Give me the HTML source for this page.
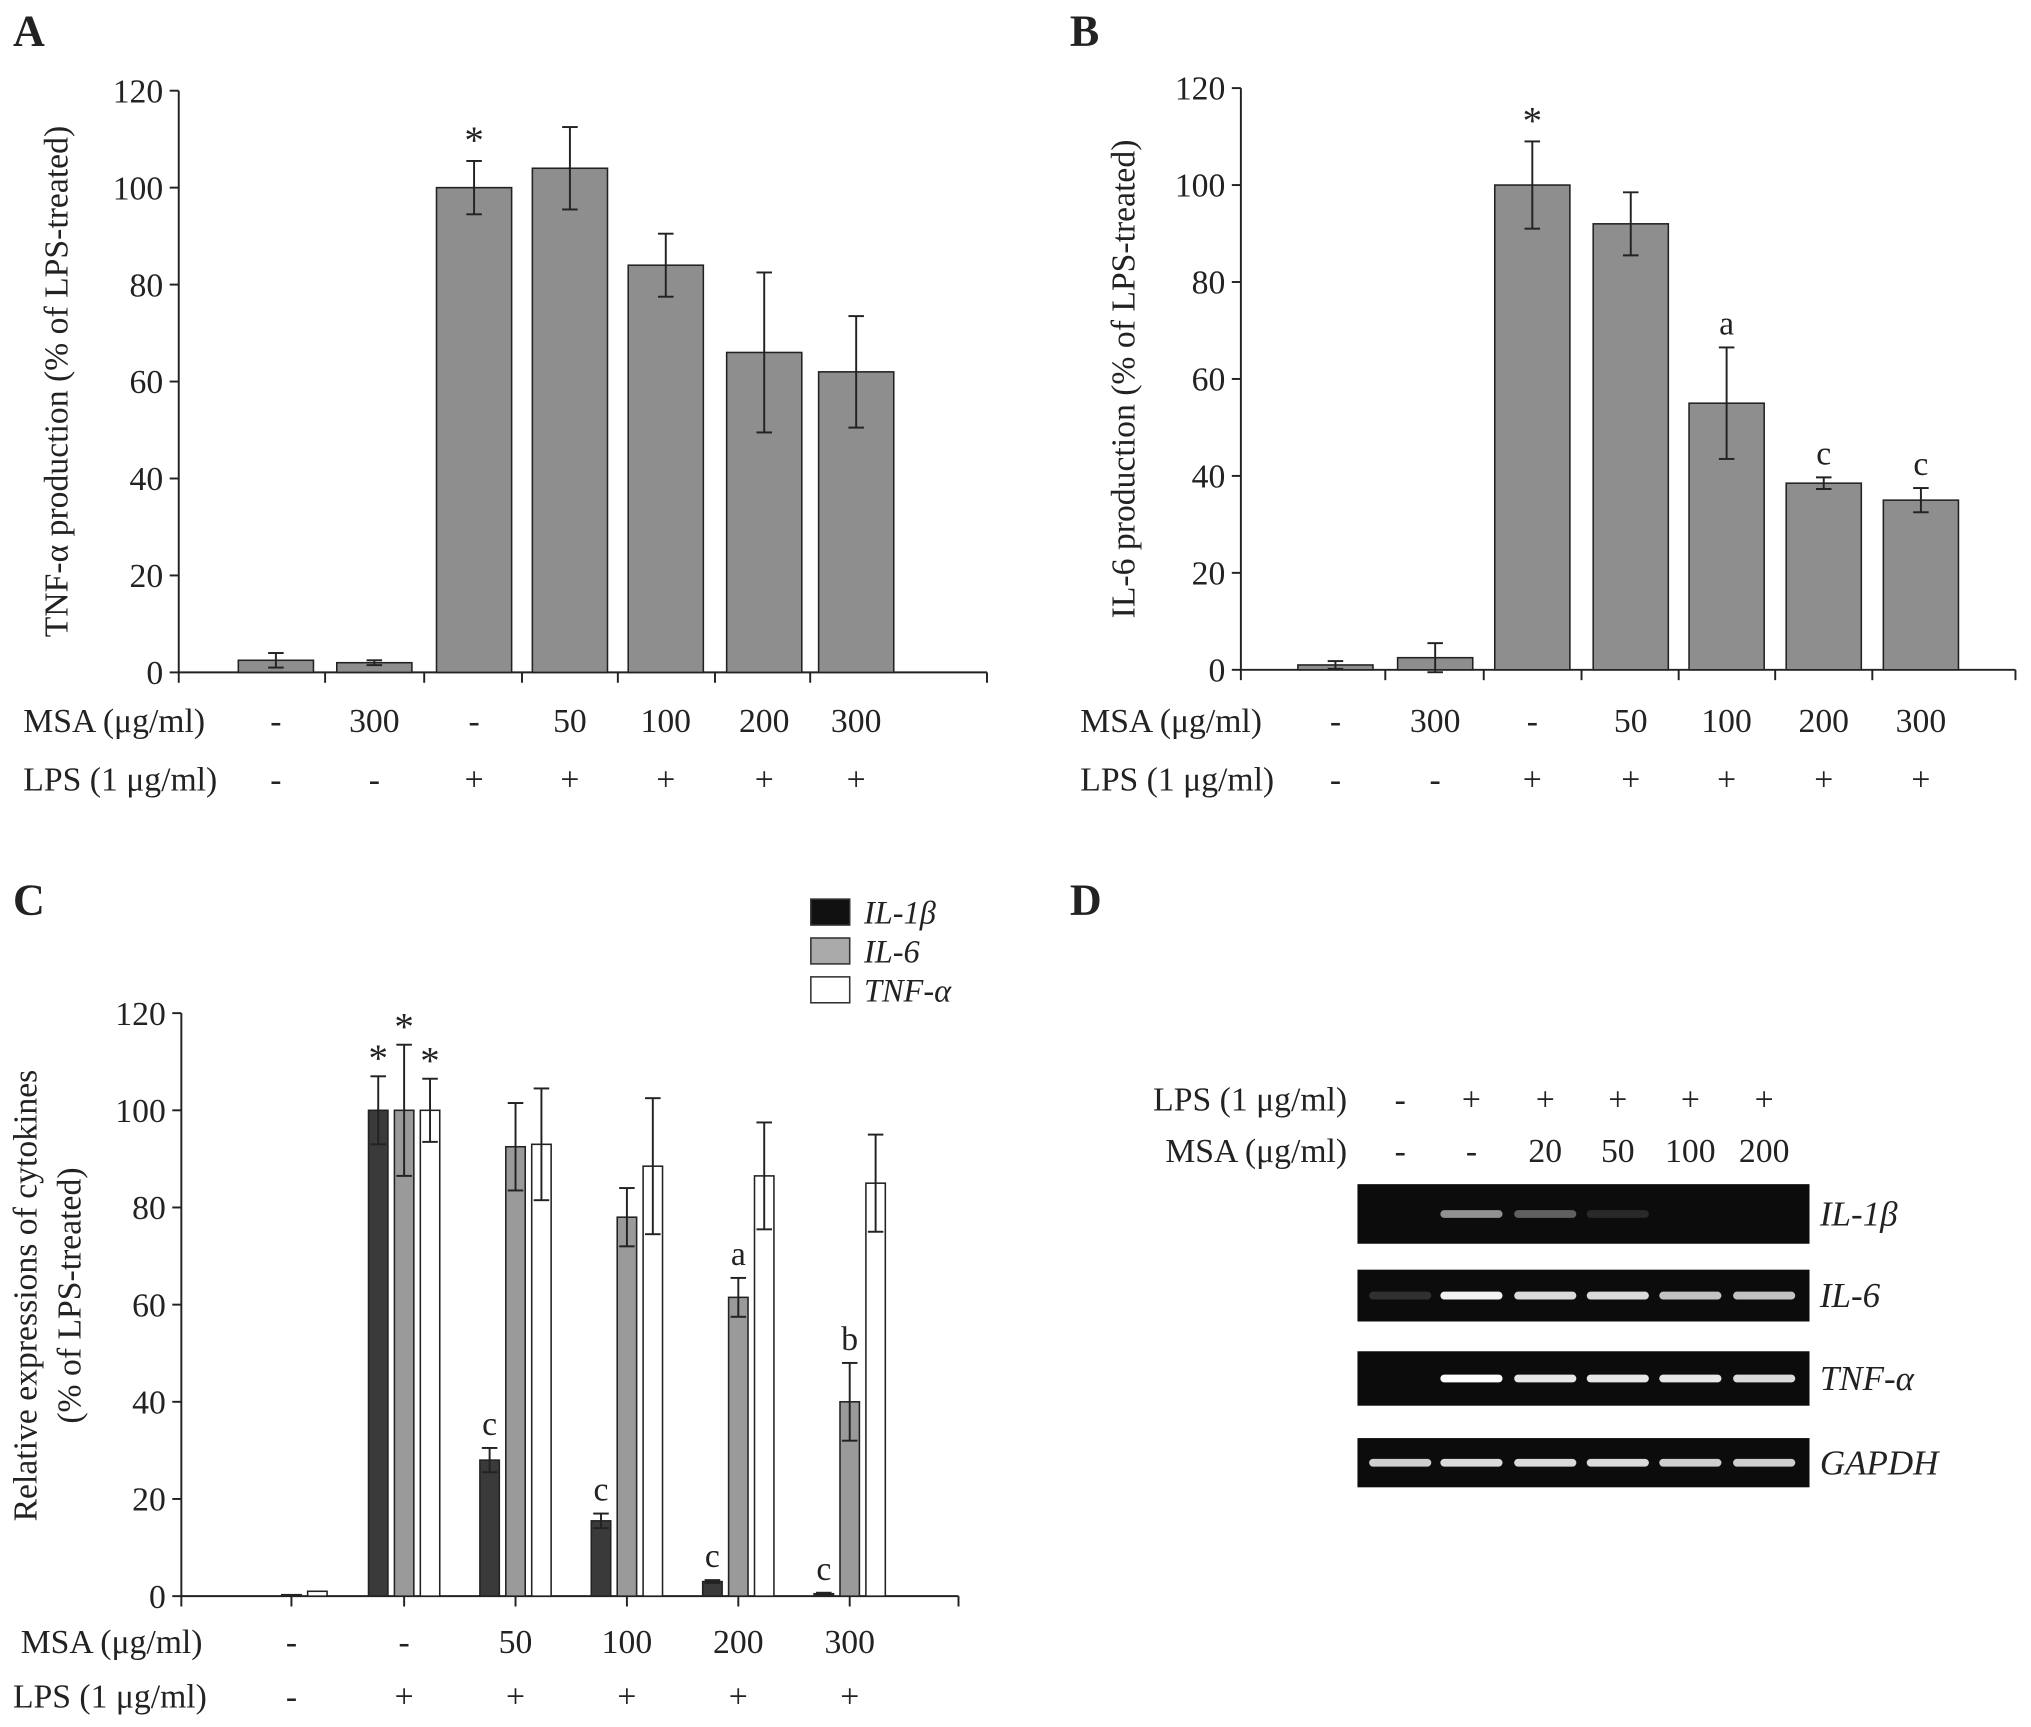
<!DOCTYPE html>
<html><head><meta charset="utf-8"><style>
html,body{margin:0;padding:0;background:#fff}
svg{display:block}
text{font-family:"Liberation Serif",serif;fill:#222}
</style></head><body>
<svg id="fig" width="2031" height="1727" viewBox="0 0 1568 1333" preserveAspectRatio="none" xmlns="http://www.w3.org/2000/svg">
<g id="gA"></g>
<g id="gB"></g>
<g id="gC"></g>
<g id="gD"></g>
</svg>
<script>
const aMSA=["-","300","-","50","100","200","300"];
const aLPS=["-","-","+","+","+","+","+"];
const aVals=[2.5,2,100,104,84,66,62];
const aErr=[1.5,0.5,5.5,8.5,6.5,16.5,11.5];
const aMarks=["","","*","","","",""];
const bVals=[1,2.5,100,92,55,38.5,35];
const bErr=[0.8,3,9,6.5,11.5,1.2,2.5];
const bMarks=["","","*","","a","c","c"];
const yTicks=[0,20,40,60,80,100,120];
const cMSA=["-","-","50","100","200","300"];
const cLPS=["-","+","+","+","+","+"];
const cIL1b=[0,100,28,15.5,3,0.5];
const cIL1bErr=[0,7,2.5,1.5,0.3,0.2];
const cIL6=[0.3,100,92.5,78,61.5,40];
const cIL6Err=[0,13.5,9,6,4,8];
const cTNF=[1,100,93,88.5,86.5,85];
const cTNFErr=[0,6.5,11.5,14,11,10];
const cMarks1=["","*","c","c","c","c"];
const cMarks2=["","*","","","a","b"];
const cMarks3=["","*","","","",""];
const dMSA=["-","-","20","50","100","200"];
const dLPS=["-","+","+","+","+","+"];
const dGenes=["IL-1β","IL-6","TNF-α","GAPDH"];
const dBand=[[0,0.55,0.35,0.12,0,0],[0.15,0.95,0.85,0.85,0.75,0.75],[0,1,0.9,0.9,0.9,0.85],[0.8,0.85,0.85,0.85,0.8,0.8]];
const NS="http://www.w3.org/2000/svg";
function el(p,t,a,txt){const e=document.createElementNS(NS,t);for(const k in a)e.setAttribute(k,a[k]);if(txt!==undefined)e.textContent=txt;p.appendChild(e);return e;}
function txt(p,x,y,s,size,extra){return el(p,"text",Object.assign({x:x,y:y,"font-size":size||26,"text-anchor":"middle"},extra||{}),s);}
function axes(g,x0,x1,y0,yTop,ticksX,titleLines,tx,ty){
  const ys=v=>y0-(y0-yTop)*v/120;
  const ax=el(g,"line",{x1:x0,y1:y0,x2:x1,y2:y0,stroke:"#222","stroke-width":1.5});
  
  const ay=el(g,"line",{x1:x0,y1:y0,x2:x0,y2:yTop,stroke:"#222","stroke-width":1.5});
  
  yTicks.forEach(v=>{el(g,"line",{x1:x0-7,y1:ys(v),x2:x0,y2:ys(v),stroke:"#222","stroke-width":1.5});
    const t=txt(g,x0-12,ys(v)+9,String(v),26,{"text-anchor":"end"});
    });
  ticksX.forEach(x=>el(g,"line",{x1:x,y1:y0,x2:x,y2:y0+8,stroke:"#222","stroke-width":1.5}));
  titleLines.forEach((l,i)=>{const t=txt(g,0,0,l,26,{transform:`translate(${tx+i*34},${ty}) rotate(-90)`});
    });
  return ys;
}
function bar(g,cx,w,v,e,ys,fill,name){
  const y0=ys(0),y=ys(v);
  const r=el(g,"rect",{x:cx-w/2,y:y,width:w,height:y0-y,fill:fill,stroke:"#222","stroke-width":1.2});
  
  if(e>0){const t=ys(v+e),b=ys(v-e);
    el(g,"line",{x1:cx,y1:t,x2:cx,y2:b,stroke:"#222","stroke-width":1.5});
    el(g,"line",{x1:cx-6,y1:t,x2:cx+6,y2:t,stroke:"#222","stroke-width":1.5});
    el(g,"line",{x1:cx-6,y1:b,x2:cx+6,y2:b,stroke:"#222","stroke-width":1.5});}
  return ys(v+e);
}
function simple(g,x0,x1,y0,yTop,xs,vals,errs,marks,title,tx,letter,lx){
  const tx2=[x0].concat(xs.map((x,i)=>i<xs.length-1?(x+xs[i+1])/2:x1));
  const ys=axes(g,x0,x1,y0,yTop,tx2,[title],tx,(y0+yTop)/2);
  vals.forEach((v,i)=>{const top=bar(g,xs[i],58,v,errs[i],ys,"#8e8e8e","bar-"+i);
    if(marks[i]){const m=txt(g,xs[i],top-(marks[i]=="*"?6:10),marks[i],marks[i]=="*"?30:26);}});
  const L=txt(g,lx,35,letter,34,{"font-weight":"bold","text-anchor":"start"});
  txt(g,lx+8,565,"MSA (μg/ml)",26,{"text-anchor":"start"});
  txt(g,lx+8,610,"LPS (1 μg/ml)",26,{"text-anchor":"start"});
  aMSA.forEach((s,i)=>{const t=txt(g,xs[i],565,s,26);});
  aLPS.forEach((s,i)=>{const t=txt(g,xs[i],610,s,26);});
}
simple(document.getElementById("gA"),138,762,519,70,[213,289,366,440,514,590,661],aVals,aErr,aMarks,"TNF-α production  (% of LPS-treated)",52,"A",10);
simple(document.getElementById("gB"),958,1556,517,68,[1031,1108,1183,1259,1333,1408,1483],bVals,bErr,bMarks,"IL-6 production  (% of LPS-treated)",876,"B",826);
// Panel C
(function(){
  const g=document.getElementById("gC");
  const xs=[225,312,398,484,570,656];
  const ys=axes(g,140,740,1232,782,[140].concat(xs).concat([740]),["Relative expressions of cytokines","(% of LPS-treated)"],28,1000);
  const series=[[cIL1b,cIL1bErr,"#3a3a3a",-20,cMarks1,"bar-il1b"],[cIL6,cIL6Err,"#9a9a9a",0,cMarks2,"bar-il6"],[cTNF,cTNFErr,"#ffffff",20,cMarks3,"bar-tnf"]];
  series.forEach(s=>{xs.forEach((x,i)=>{
    const v=s[0][i];if(v<=0)return;
    const top=bar(g,x+s[3],15,v,s[1][i],ys,s[2],s[5]);
    const m=s[4][i];if(m){const t=txt(g,x+s[3],top-(m=="*"?4:10),m,m=="*"?30:26);}
  });});
  const L=txt(g,10,706,"C",34,{"font-weight":"bold","text-anchor":"start"});
  txt(g,16,1276,"MSA (μg/ml)",26,{"text-anchor":"start"});
  txt(g,10,1318,"LPS (1 μg/ml)",26,{"text-anchor":"start"});
  cMSA.forEach((s,i)=>{const t=txt(g,xs[i],1276,s,26);});
  cLPS.forEach((s,i)=>{const t=txt(g,xs[i],1318,s,26);});
  const names=["IL-1β","IL-6","TNF-α"],fills=["#111","#aaa","#fff"];
  names.forEach((n,i)=>{const y=694+i*30;
    const r=el(g,"rect",{x:626,y:y,width:30,height:20,fill:fills[i],stroke:"#333","stroke-width":1.2});
    
    const t=txt(g,667,y+19,n,25,{"text-anchor":"start","font-style":"italic"});
    });
})();
// Panel D
(function(){
  const g=document.getElementById("gD");
  const L=txt(g,826,706,"D",34,{"font-weight":"bold","text-anchor":"start"});
  const lanes=[1081,1136,1193,1249,1305,1362];
  txt(g,1040,857,"LPS (1 μg/ml)",26,{"text-anchor":"end"});
  txt(g,1040,897,"MSA (μg/ml)",26,{"text-anchor":"end"});
  dLPS.forEach((s,i)=>{const t=txt(g,lanes[i],857,s,26);});
  dMSA.forEach((s,i)=>{const t=txt(g,lanes[i],897,s,26);});
  const rows=[[914,960],[980,1020],[1043,1085],[1110,1148]];
  rows.forEach((r,k)=>{
    const box=el(g,"rect",{x:1048,y:r[0],width:349,height:r[1]-r[0],fill:"#0c0c0c"});
    
    const cy=(r[0]+r[1])/2;
    lanes.forEach((x,i)=>{const a=dBand[k][i];if(a<=0)return;
      const b=el(g,"rect",{x:x-24,y:cy-3,width:48,height:6,rx:3,fill:"#fff",opacity:a});
      });
    const t=txt(g,1405,cy+9,dGenes[k],27,{"text-anchor":"start","font-style":"italic"});
    
  });
})();
</script>
</body></html>
